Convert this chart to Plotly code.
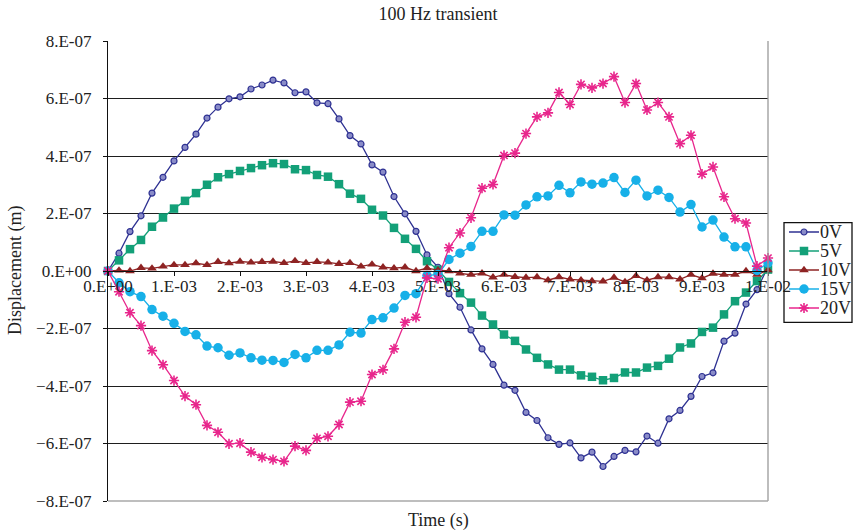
import numpy as np
import plotly.graph_objects as go

# Displacement samples in units of 1e-7 m, 61 samples over one 10 ms period
UNIT = 1e-7
time_s = np.linspace(0.0, 0.01, 61)

disp_0v = [0, 0.62, 1.37, 1.92, 2.71, 3.26, 3.83, 4.30, 4.76, 5.32,
           5.70, 5.99, 6.06, 6.33, 6.47, 6.64, 6.54, 6.20, 6.23, 5.85,
           5.82, 5.29, 4.71, 4.42, 3.69, 3.44, 2.59, 1.99, 1.38, 0.56,
           0.13, -0.79, -1.26, -2.05, -2.71, -3.25, -3.97, -4.15, -4.92, -5.20,
           -5.80, -6.03, -5.98, -6.50, -6.30, -6.80, -6.45, -6.24, -6.29, -5.74,
           -5.99, -5.14, -4.85, -4.36, -3.67, -3.54, -2.44, -2.16, -1.15, -0.65,
           0.15]
disp_5v = [0, 0.37, 0.76, 1.08, 1.54, 1.86, 2.17, 2.44, 2.71, 3.00,
           3.26, 3.37, 3.48, 3.58, 3.68, 3.75, 3.72, 3.54, 3.51, 3.34,
           3.28, 3.02, 2.69, 2.51, 2.13, 1.93, 1.50, 1.12, 0.77, 0.34,
           0.04, -0.38, -0.77, -1.10, -1.55, -1.86, -2.21, -2.43, -2.73, -3.02,
           -3.25, -3.43, -3.43, -3.63, -3.68, -3.80, -3.72, -3.53, -3.53, -3.36,
           -3.30, -3.05, -2.66, -2.52, -2.12, -1.97, -1.51, -1.05, -0.75, -0.35,
           0.05]
disp_10v = [0, 0.02, 0.00, 0.11, 0.09, 0.16, 0.21, 0.21, 0.27, 0.21,
            0.32, 0.27, 0.33, 0.30, 0.32, 0.33, 0.28, 0.35, 0.28, 0.32,
            0.30, 0.25, 0.28, 0.16, 0.23, 0.13, 0.10, 0.13, 0.00, 0.10,
            0.03, 0.00, -0.08, -0.13, -0.08, -0.22, -0.13, -0.20, -0.23, -0.21,
            -0.32, -0.21, -0.29, -0.32, -0.35, -0.36, -0.23, -0.38, -0.17, -0.32,
            -0.21, -0.21, -0.29, -0.13, -0.25, -0.09, -0.13, -0.13, 0.00, -0.13,
            0.03]
disp_15v = [0, -0.41, -0.72, -0.89, -1.34, -1.57, -1.82, -2.10, -2.22, -2.61,
            -2.67, -2.93, -2.85, -3.02, -3.10, -3.11, -3.18, -2.90, -3.02, -2.76,
            -2.76, -2.57, -2.13, -2.16, -1.69, -1.63, -1.29, -0.85, -0.79, -0.16,
            -0.12, 0.40, 0.62, 0.85, 1.38, 1.38, 1.95, 1.94, 2.30, 2.58,
            2.61, 2.98, 2.72, 3.10, 3.02, 3.06, 3.25, 2.73, 3.16, 2.61,
            2.81, 2.56, 2.05, 2.31, 1.53, 1.77, 1.18, 0.84, 0.84, 0.02,
            0.28]
disp_20v = [0, -0.72, -1.45, -1.90, -2.77, -3.26, -3.81, -4.35, -4.65, -5.37,
            -5.61, -6.01, -5.99, -6.30, -6.48, -6.56, -6.62, -6.09, -6.24, -5.82,
            -5.75, -5.34, -4.56, -4.53, -3.60, -3.44, -2.71, -1.78, -1.61, -0.24,
            -0.27, 0.81, 1.32, 1.85, 2.88, 3.01, 4.02, 4.10, 4.78, 5.36,
            5.50, 6.21, 5.79, 6.49, 6.37, 6.52, 6.76, 5.86, 6.52, 5.60,
            5.86, 5.36, 4.43, 4.72, 3.37, 3.62, 2.58, 1.82, 1.67, 0.17,
            0.45]

series_names = ["0V", "5V", "10V", "15V", "20V"]
series_values = [disp_0v, disp_5v, disp_10v, disp_15v, disp_20v]

x_tick_vals = [0.000, 0.001, 0.002, 0.003, 0.004, 0.005,
               0.006, 0.007, 0.008, 0.009, 0.010]
x_tick_text = ["0.E+00", "1.E-03", "2.E-03", "3.E-03", "4.E-03", "5.E-03",
               "6.E-03", "7.E-03", "8.E-03", "9.E-03", "1.E-02"]
y_tick_vals = [-8e-7, -6e-7, -4e-7, -2e-7, 0, 2e-7, 4e-7, 6e-7, 8e-7]
y_tick_text = ["\u22128.E-07", "\u22126.E-07", "\u22124.E-07", "\u22122.E-07", "0.E+00",
               "2.E-07", "4.E-07", "6.E-07", "8.E-07"]

FONT = "Liberation Serif, Times New Roman, serif"
TEXT_COLOR = "#222222"

# plotting-area geometry in pixels (used to place the legend frame and labels)
W, H = 853, 531
M_L, M_R, M_T, M_B = 108, 85, 41, 30
PW, PH = W - M_L - M_R, H - M_T - M_B


def px_x(px):
    return (px - M_L) / PW


def px_y(py):
    return (H - M_B - py) / PH


styles = [
    dict(color="#2e3192", marker=dict(symbol="circle", size=6, color="#8a8cc8",
                                       line=dict(color="#2e3192", width=1.2))),
    dict(color="#13a078", marker=dict(symbol="square", size=8.5, color="#13a078",
                                       line=dict(width=0))),
    dict(color="#8e2323", marker=dict(symbol="triangle-up", size=8.5, color="#8e2323",
                                       line=dict(width=0))),
    dict(color="#17b0e8", marker=dict(symbol="circle", size=9.5, color="#17b0e8",
                                       line=dict(width=0))),
    dict(color="#e8268c", marker=dict(symbol="asterisk-open", size=8.5,
                                       line=dict(color="#e8268c", width=1.6))),
]

fig = go.Figure()
for name, vals, st in zip(series_names, series_values, styles):
    fig.add_trace(go.Scatter(
        x=time_s,
        y=np.array(vals) * UNIT,
        mode="lines+markers",
        name="",
        hovertext=name,
        line=dict(color=st["color"], width=1.3),
        marker=st["marker"],
        cliponaxis=False,
    ))

# legend: plotly draws the keys, the series names sit beside them as text
LEG_LEFT, LEG_RIGHT, LEG_TOP, LEG_BOTTOM = 784, 852, 222.7, 322.3
ROW_H = 19
FIRST_ROW = 232.0
legend_labels = [
    dict(text=name, xref="paper", yref="paper",
         x=px_x(818), y=px_y(FIRST_ROW + i * ROW_H),
         xanchor="left", yanchor="middle", showarrow=False,
         font=dict(family=FONT, size=18, color=TEXT_COLOR))
    for i, name in enumerate(series_names)
]

fig.update_layout(
    width=W, height=H,
    margin=dict(l=M_L, r=M_R, t=M_T, b=M_B, autoexpand=False),
    paper_bgcolor="white", plot_bgcolor="white",
    font=dict(family=FONT, size=17, color=TEXT_COLOR),
    title=dict(text="100 Hz transient", x=0.5, xref="paper", y=1 - 14 / H,
               yanchor="middle", xanchor="center",
               font=dict(family=FONT, size=18, color=TEXT_COLOR)),
    showlegend=True,
    legend=dict(x=px_x(LEG_LEFT), xanchor="left",
                y=px_y(FIRST_ROW - 14.5), yanchor="top",
                borderwidth=0, bgcolor="rgba(0,0,0,0)",
                font=dict(family=FONT, size=12, color=TEXT_COLOR),
                tracegroupgap=0, itemwidth=30),
    xaxis=dict(range=[0, 0.01], anchor="free", position=0.5,
               showline=True, linecolor="#111111", linewidth=1.3,
               ticks="outside", ticklen=4, tickcolor="#111111",
               tickvals=x_tick_vals, ticktext=x_tick_text,
               tickfont=dict(family=FONT, size=17, color=TEXT_COLOR),
               ticklabelstandoff=-5,
               showgrid=False, zeroline=False),
    yaxis=dict(range=[-8e-7, 8e-7],
               showline=True, linecolor="#111111", linewidth=1.3,
               ticks="outside", ticklen=4, tickcolor="#111111",
               tickvals=y_tick_vals, ticktext=y_tick_text,
               tickfont=dict(family=FONT, size=17, color=TEXT_COLOR),
               ticklabelstandoff=8,
               showgrid=True, gridcolor="#1e1e1e", gridwidth=1.3,
               zeroline=False),
    annotations=[
        dict(text="Time (s)", xref="paper", yref="paper", x=0.5, y=px_y(520),
             xanchor="center", yanchor="middle", showarrow=False,
             font=dict(family=FONT, size=18, color=TEXT_COLOR)),
        dict(text="Displacement (m)", xref="paper", yref="paper", x=px_x(15), y=0.5,
             xanchor="center", yanchor="middle", textangle=-90, showarrow=False,
             font=dict(family=FONT, size=18, color=TEXT_COLOR)),
    ] + legend_labels,
    shapes=[
        # light frame on the right and bottom of the plotting area
        dict(type="line", xref="paper", yref="paper", x0=1, x1=1, y0=0, y1=1,
             line=dict(color="#9a9a9a", width=1.3), layer="above"),
        dict(type="line", xref="paper", yref="paper", x0=0, x1=1, y0=0, y1=0,
             line=dict(color="#a8a8a8", width=1.3), layer="above"),
        # legend frame
        dict(type="rect", xref="paper", yref="paper",
             x0=px_x(LEG_LEFT), x1=px_x(LEG_RIGHT),
             y0=px_y(LEG_BOTTOM), y1=px_y(LEG_TOP),
             line=dict(color="#111111", width=1.3), fillcolor="rgba(0,0,0,0)",
             layer="above"),
    ],
)

fig.write_html("out.html")
